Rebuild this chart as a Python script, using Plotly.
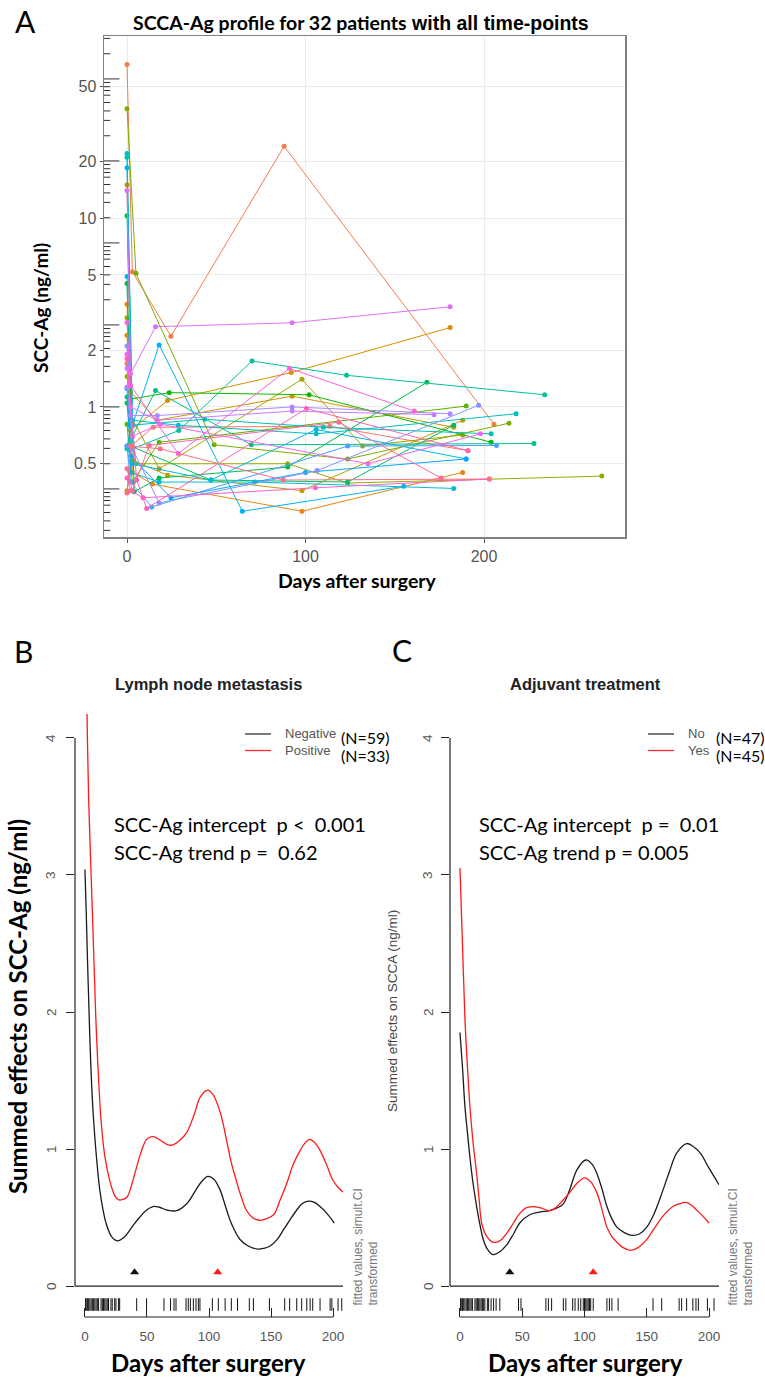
import math
import plotly.graph_objects as go

W, H = 765, 1382

# ---------------- Panel A data: SCCA-Ag per patient ----------------
days_by_patient = [
    [0, 2, 14.7, 113.6, 191],
    [0, 3, 24.6, 88, 205.6],
    [0, 3, 14.3, 98, 188],
    [0, 2, 22.7, 92, 181],
    [0, 2, 16.8, 92.5, 183],
    [0, 3, 22.7, 98, 188],
    [0, 2, 18, 98, 132, 188],
    [0, 5, 90, 123.6, 266],
    [0, 5, 48.8, 123.6, 214],
    [0, 3, 18, 190],
    [0, 2, 23.6, 102, 204],
    [0, 4, 18, 90, 168],
    [0, 2, 47, 123.6, 183],
    [0, 3, 16, 69.6, 228],
    [0, 3, 29, 70, 123, 234],
    [0, 2, 43.6, 110, 204],
    [0, 3, 28.7, 106, 218],
    [0, 2, 18, 71.5, 183],
    [0, 3, 47, 106, 190],
    [0, 3, 18, 64.6, 155],
    [0, 2, 24.6, 100, 190],
    [0, 2, 13.8, 123.6, 207],
    [0, 3, 18, 106.5, 197],
    [0, 2, 17, 92.5, 181],
    [0, 2, 17, 92.5, 172],
    [0, 2, 16, 92.5, 181],
    [0, 3, 18.6, 135, 198],
    [0, 2, 28.7, 91, 161],
    [0, 2, 9, 105.6, 203],
    [0, 5.4, 11, 100.5, 191],
    [0, 3, 12.5, 118.6, 176],
    [0, 2, 18.6, 87.5, 203],
]
scc_by_patient = [
    [1.7, 0.62, 0.78, 0.79, 0.586],
    [65, 5.2, 2.37, 24, 0.81],
    [3.5, 0.45, 0.39, 0.28, 0.45],
    [2.4, 0.75, 1.08, 1.52, 2.63],
    [15, 1.2, 0.85, 1.14, 0.78],
    [0.36, 0.52, 0.435, 0.36, 0.85],
    [2.97, 0.9, 0.47, 1.40, 0.62, 0.71],
    [1.45, 0.5, 0.50, 0.395, 0.43],
    [38, 5.1, 0.63, 0.53, 0.82],
    [0.81, 0.4, 0.65, 1.01],
    [4.5, 1.1, 1.19, 1.16, 0.65],
    [10.3, 0.355, 0.42, 0.48, 1.35],
    [1.05, 0.62, 0.41, 0.40, 0.80],
    [1.13, 0.7, 1.22, 0.63, 0.64],
    [21, 0.6, 0.75, 1.75, 1.47, 1.16],
    [0.6, 0.8, 0.86, 0.78, 0.72],
    [22, 0.85, 0.80, 0.72, 0.92],
    [4.9, 0.45, 0.40, 0.40, 0.37],
    [0.62, 0.5, 0.41, 0.76, 0.53],
    [18.5, 0.8, 2.13, 0.28, 0.38],
    [1.25, 0.55, 0.33, 0.45, 0.53],
    [0.62, 0.4, 0.295, 0.62, 0.625],
    [2.1, 0.6, 0.31, 0.46, 1.02],
    [1.27, 0.9, 0.90, 1.0, 0.92],
    [1.6, 1.0, 0.85, 0.95, 0.91],
    [14, 1.5, 2.66, 2.79, 3.39],
    [1.9, 0.7, 0.81, 0.50, 0.72],
    [2.8, 1.3, 0.566, 1.6, 0.95],
    [0.42, 0.36, 0.33, 0.373, 0.415],
    [1.8, 0.41, 0.29, 0.98, 0.586],
    [0.47, 0.36, 0.625, 0.83, 0.42],
    [0.35, 0.62, 0.6, 0.41, 0.415],
]
a_ytick_vals = [0.5, 1, 2, 5, 10, 20, 50]
a_xtick_vals = [0, 100, 200]

# ---------------- Panel B data: lymph node metastasis ----------------
b_neg_days = [0, 1, 2, 3, 4, 5.5, 7, 9.5, 12, 14.5, 17, 21.5, 26, 32, 39, 44, 49.7, 55, 60, 66,
              74, 82, 88, 93, 99, 104, 109, 113, 117, 121, 125, 132, 139, 144, 149, 155, 160,
              165, 170.7, 175, 180, 185, 189.5, 195, 201]
b_neg_fit = [3.04, 2.75, 2.4, 2.1, 1.8, 1.45, 1.21, 0.92, 0.70, 0.56, 0.46, 0.36, 0.33, 0.36, 0.445,
             0.50, 0.555, 0.58, 0.575, 0.555, 0.55, 0.60, 0.68, 0.75, 0.80, 0.78, 0.70, 0.59, 0.48,
             0.40, 0.34, 0.29, 0.27, 0.275, 0.29, 0.34, 0.41, 0.48, 0.555, 0.60, 0.62, 0.61, 0.58,
             0.53, 0.46]
b_pos_days = [1.3, 2, 3, 5, 7, 8.6, 10, 13, 16, 20, 24, 27, 30, 34, 38, 41.7, 45, 49.7, 54, 58, 63,
              67, 71, 76, 82, 88, 93, 99, 103, 107.5, 111, 114, 118, 122, 126, 130, 135, 141, 146,
              152, 157, 162.7, 168, 173.5, 178, 181, 185, 189.5, 195, 200, 205, 209]
b_pos_fit = [4.4, 4.0, 3.55, 3.0, 2.45, 2.0, 1.7, 1.21, 0.95, 0.77, 0.66, 0.63, 0.63, 0.65, 0.75,
             0.87, 0.97, 1.07, 1.09, 1.08, 1.05, 1.03, 1.03, 1.06, 1.12, 1.25, 1.38, 1.43, 1.40,
             1.31, 1.20, 1.07, 0.90, 0.77, 0.65, 0.555, 0.50, 0.48, 0.49, 0.52, 0.62, 0.75, 0.89,
             0.99, 1.05, 1.07, 1.05, 0.99, 0.88, 0.77, 0.71, 0.68]
b_rug_days = [0.5, 1, 2, 3, 4, 5, 6, 7, 8, 9, 10, 11, 13, 14, 15, 16, 17, 18, 19, 21, 22, 24, 25,
              27, 28, 41.7, 49.7, 63.7, 69, 71.8, 73.4, 81.5, 83.3, 85, 87.4, 89.5, 91.4, 92.7,
              102.7, 107.5, 113, 118, 123, 132.5, 135.8, 148.7, 161, 165, 170.7, 174.7, 178.8,
              181.5, 183.6, 189.5, 197.6, 199, 204, 207]
b_mark_days = [40, 107]
b_legend = ["Negative", "Positive"]
b_counts = ["(N=59)", "(N=33)"]

# ---------------- Panel C data: adjuvant treatment ----------------
c_no_days = [0, 2, 4, 6, 8, 10.5, 13.4, 16, 18.7, 22, 26.5, 32, 37.5, 43, 48, 56, 64, 72, 78, 83,
             88, 94, 101, 106, 110, 114, 118, 122, 126, 132, 138, 144, 150, 156, 163, 168, 174,
             182, 187, 193, 200, 208]
c_no_fit = [1.85, 1.6, 1.31, 1.12, 0.94, 0.75, 0.58, 0.45, 0.34, 0.27, 0.23, 0.25, 0.30, 0.38, 0.46,
            0.52, 0.54, 0.55, 0.57, 0.60, 0.70, 0.85, 0.92, 0.89, 0.82, 0.71, 0.58, 0.49, 0.43,
            0.39, 0.37, 0.38, 0.43, 0.53, 0.70, 0.83, 0.97, 1.04, 1.02, 0.97, 0.86, 0.74]
c_yes_days = [0, 2, 4, 6, 8, 10.5, 13.4, 15.5, 17.4, 21, 26.5, 32, 37.5, 43, 48, 53, 58, 65, 72, 78,
              83, 88, 94, 100, 105, 110, 114, 118, 122, 126, 131, 137, 143, 150, 156, 163, 171,
              176, 181, 186, 190, 195, 200]
c_yes_fit = [3.05, 2.5, 1.95, 1.6, 1.31, 1.05, 0.82, 0.62, 0.46, 0.37, 0.32, 0.33, 0.385, 0.46,
             0.53, 0.57, 0.58, 0.57, 0.55, 0.58, 0.63, 0.68, 0.75, 0.79, 0.76, 0.68, 0.56, 0.43,
             0.36, 0.32, 0.28, 0.26, 0.28, 0.34, 0.42, 0.51, 0.58, 0.60, 0.61, 0.59, 0.555, 0.51,
             0.46]
c_rug_days = [0.5, 1, 2, 3, 4, 5, 6, 7, 8, 9, 10, 12, 13, 14, 15, 16, 17, 18, 19, 20, 22, 23, 25,
              27, 29, 32, 47, 49, 69, 71, 73.6, 83, 85, 90.5, 92.4, 95, 97, 99, 100, 101, 102, 103,
              104, 105, 107, 118, 120, 122, 127, 155, 162, 176, 178, 182, 187, 189.5, 191.4, 198.7,
              204]
c_mark_days = [40, 107]
c_legend = ["No", "Yes"]
c_counts = ["(N=47)", "(N=45)"]

gam_xticks = [0, 50, 100, 150, 200]
gam_yticks = [0, 1, 2, 3, 4]


# ---------------- helpers ----------------
def px(x):
    return x / W


def py(y):
    return 1 - y / H


def hue_color(h, c=100.0, l=65.0):
    hr = math.radians(h)
    u, v = c * math.cos(hr), c * math.sin(hr)
    Xn, Yn, Zn = 95.047, 100.0, 108.883
    den = Xn + 15 * Yn + 3 * Zn
    un, vn = 4 * Xn / den, 9 * Yn / den
    Y = Yn * ((l + 16) / 116) ** 3
    up = u / (13 * l) + un
    vp = v / (13 * l) + vn
    X = Y * 9 * up / (4 * vp)
    Z = Y * (12 - 3 * up - 20 * vp) / (4 * vp)
    X, Y, Z = X / 100, Y / 100, Z / 100
    r = 3.2404542 * X - 1.5371385 * Y - 0.4985314 * Z
    g = -0.9692660 * X + 1.8760108 * Y + 0.0415560 * Z
    b = 0.0556434 * X - 0.2040259 * Y + 1.0572252 * Z

    def gam(t):
        t = 1.055 * t ** (1 / 2.4) - 0.055 if t > 0.0031308 else 12.92 * t
        return int(round(min(max(t, 0), 1) * 255))

    return "#%02X%02X%02X" % (gam(r), gam(g), gam(b))


n_pat = len(days_by_patient)
pal = [hue_color(15 + i * 360 / n_pat) for i in range(n_pat)]

CAL = "Lato, 'Open Sans', sans-serif"
ARI = "'Liberation Sans', Arial, sans-serif"

fig = go.Figure()

a_xrange = [-12.9, 279]
a_ylog = [-0.689, 1.9645]

# ---------------- Panel A traces ----------------
for i in range(n_pat):
    fig.add_trace(go.Scatter(
        x=days_by_patient[i], y=scc_by_patient[i], mode="lines+markers",
        line=dict(color=pal[i], width=1), marker=dict(color=pal[i], size=5),
        xaxis="x", yaxis="y", showlegend=False, hoverinfo="skip"))

# log-tick decoration inside left border (half of each centred mark is clipped away)
E = math.e
long_ticks = [E ** n for n in range(-1, 5)]
mults = [0.957, 0.909, 0.868, 0.82, 0.75, 0.677, 0.603, 0.5]
minor_ticks = [m * E ** n for n in range(-1, 6) for m in mults
               if 10 ** a_ylog[0] < m * E ** n < 10 ** a_ylog[1]]
for tv, sz in [(long_ticks, 22), (minor_ticks, 9)]:
    fig.add_trace(go.Scatter(x=[a_xrange[0]] * len(tv), y=tv, mode="markers",
                             marker=dict(symbol="line-ew", size=sz, line=dict(width=1, color="#333")),
                             xaxis="x", yaxis="y", showlegend=False, hoverinfo="skip", cliponaxis=True))


# ---------------- Panel B / C traces ----------------
def gam_panel(xa, ya, d1, f1, d2, f2, rug, marks):
    fig.add_trace(go.Scatter(x=d1, y=f1, mode="lines", line=dict(color="#1a1a1a", width=1.3, shape="spline"),
                             xaxis=xa, yaxis=ya, showlegend=False, hoverinfo="skip"))
    fig.add_trace(go.Scatter(x=d2, y=f2, mode="lines", line=dict(color="#ff1a1a", width=1.3, shape="spline"),
                             xaxis=xa, yaxis=ya, showlegend=False, hoverinfo="skip"))
    fig.add_trace(go.Scatter(x=rug, y=[-0.135] * len(rug), mode="markers",
                             marker=dict(symbol="line-ns", size=9, line=dict(width=1, color="#111")),
                             xaxis=xa, yaxis=ya, showlegend=False, hoverinfo="skip"))
    fig.add_trace(go.Scatter(x=marks, y=[0.1] * len(marks), mode="markers",
                             marker=dict(symbol="triangle-up", size=8, color=["#111", "#ff1a1a"]),
                             xaxis=xa, yaxis=ya, showlegend=False, hoverinfo="skip", cliponaxis=False))


gam_panel("x2", "y2", b_neg_days, b_neg_fit, b_pos_days, b_pos_fit, b_rug_days, b_mark_days)
gam_panel("x3", "y3", c_no_days, c_no_fit, c_yes_days, c_yes_fit, c_rug_days, c_mark_days)

# ---------------- axes ----------------
layout = dict(
    width=W, height=H, margin=dict(l=0, r=0, t=0, b=0),
    paper_bgcolor="white", plot_bgcolor="white", showlegend=False,
    xaxis=dict(domain=[px(104), px(625)], range=a_xrange, anchor="y",
               tickvals=a_xtick_vals, ticks="outside", ticklen=4, tickcolor="#555",
               tickfont=dict(family=ARI, size=16, color="#555"),
               showgrid=True, gridcolor="#EBEBEB", gridwidth=1, zeroline=False,
               showline=True, mirror=True, linecolor="#808080", linewidth=1.5),
    yaxis=dict(domain=[py(537), py(36)], type="log", range=a_ylog, anchor="x",
               tickvals=a_ytick_vals, ticktext=[str(v) for v in a_ytick_vals],
               ticks="outside", ticklen=3, tickcolor="#555",
               tickfont=dict(family=ARI, size=16, color="#555"),
               showgrid=True, gridcolor="#EBEBEB", gridwidth=1, zeroline=False,
               showline=True, mirror=True, linecolor="#808080", linewidth=1.5),
)

gam_y = [-0.226, 4.175]
for xa, ya, xl, xr in [("xaxis2", "yaxis2", 75, 343), ("xaxis3", "yaxis3", 450, 719)]:
    layout[xa] = dict(domain=[px(xl), px(xr)], range=[-8, 208], anchor=ya.replace("axis", ""),
                      tickvals=gam_xticks, ticks="inside", ticklen=9, tickcolor="#222",
                      ticklabelstandoff=9, tickfont=dict(family=ARI, size=13.5, color="#555"),
                      showgrid=False, zeroline=False, showline=False)
    layout[ya] = dict(domain=[py(1317), py(714)], range=gam_y, anchor=xa.replace("axis", ""),
                      tickvals=gam_yticks, ticks="outside", ticklen=8, tickcolor="#222",
                      showticklabels=False,
                      showgrid=False, zeroline=False, showline=False)

shapes = []
for xr_, yr_ in [("x2", "y2"), ("x3", "y3")]:
    shapes.append(dict(type="line", xref=xr_ + " domain", yref=yr_, x0=0, x1=0, y0=0, y1=4,
                       line=dict(color="#222", width=1.2)))
    shapes.append(dict(type="line", xref=xr_, yref=yr_ + " domain", x0=0, x1=200, y0=0, y1=0,
                       line=dict(color="#222", width=1.2)))
    shapes.append(dict(type="line", xref=xr_ + " domain", yref=yr_, x0=0, x1=1, y0=0, y1=0,
                       line=dict(color="#222", width=1.2)))

annotations = []


def ann(text, x, y, size, family, color="black", xanchor="center", yanchor="middle", angle=0, bold=False):
    if bold:
        text = "<b>" + text + "</b>"
    annotations.append(dict(text=text, x=px(x), y=py(y), xref="paper", yref="paper",
                            showarrow=False, xanchor=xanchor, yanchor=yanchor, textangle=angle,
                            font=dict(family=family, size=size, color=color)))


# rotated y tick labels of panels B and C (R style, parallel to the axis)
for lx, yr_ in [(51, "y2"), (428, "y3")]:
    for v in gam_yticks:
        annotations.append(dict(text=str(v), x=px(lx), y=v, xref="paper", yref=yr_,
                                showarrow=False, xanchor="center", yanchor="middle", textangle=-90,
                                font=dict(family=ARI, size=13.5, color="#555")))

# panel letters
ann("A", 26, 21, 30, CAL)
ann("B", 23, 651, 30, CAL)
ann("C", 402, 650, 30, CAL)

# panel A texts
ann("<span style='font-family:Lato'>SCCA-Ag profile for 32 patients</span> with all time-points",
    361, 22, 19.5, ARI, bold=True)
ann("SCC-Ag (ng/ml)", 41, 308, 19, CAL, angle=-90, bold=True)
ann("Days after surgery", 357, 580, 19.5, CAL, bold=True)

# panel B/C texts
for cx, title in [(209, "Lymph node metastasis"), (585, "Adjuvant treatment")]:
    ann(title, cx, 684, 16.5, ARI, color="#222", bold=True)
for cx in (209, 585):
    ann("Days after surgery", cx, 1362, 24, CAL, bold=True)

ann("Summed effects on SCC-Ag (ng/ml)", 17, 1007, 24, CAL, angle=-90, bold=True)
ann("Summed effects on SCCA (ng/ml)", 392, 1011, 13.5, ARI, color="#444", angle=-90)

ann("SCC-Ag intercept&nbsp; p &lt;&nbsp; 0.001", 112, 824, 20, CAL, xanchor="left")
ann("SCC-Ag trend p =&nbsp; 0.62", 112, 852, 20, CAL, xanchor="left")
ann("SCC-Ag intercept&nbsp; p =&nbsp; 0.01", 477, 824, 20, CAL, xanchor="left")
ann("SCC-Ag trend p = 0.005", 477, 852, 20, CAL, xanchor="left")

for x0, labx, cntx, labels, counts in [(245, 283, 339, b_legend, b_counts),
                                        (648, 686, 714, c_legend, c_counts)]:
    for k, (lab, cnt, col) in enumerate(zip(labels, counts, ["#333", "#ff2a2a"])):
        yy = 734 + 16.5 * k
        shapes.append(dict(type="line", xref="paper", yref="paper", x0=px(x0), x1=px(x0 + 26),
                           y0=py(yy), y1=py(yy), line=dict(color=col, width=1.3)))
        ann(lab, labx, yy, 13, ARI, color="#555", xanchor="left")
        ann(cnt, cntx, yy + 3 + 1.5 * k, 16, CAL, xanchor="left")

for xl in (348, 723):
    annotations.append(dict(text="fitted values, simult.CI<br>transformed", x=px(xl), y=py(1308),
                            xref="paper", yref="paper", showarrow=False, xanchor="left",
                            yanchor="bottom", textangle=-90, align="left",
                            font=dict(family=ARI, size=12, color="#777")))

layout["shapes"] = shapes
layout["annotations"] = annotations
fig.update_layout(**layout)

fig.write_html("out.html", config={"displayModeBar": False, "staticPlot": True},
               post_script="document.body.style.margin='0px';document.body.style.overflow='hidden';")
